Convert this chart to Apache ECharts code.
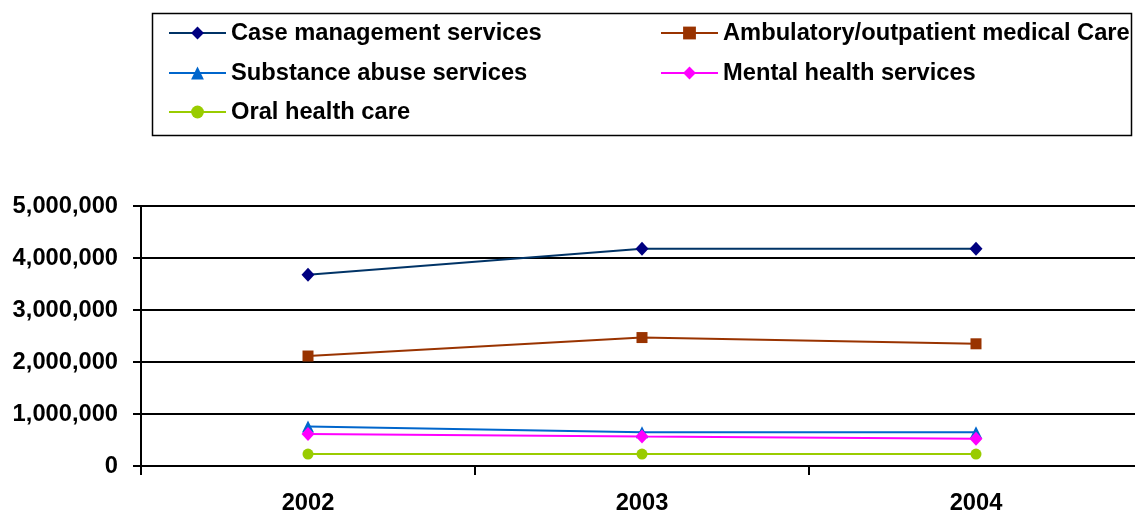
<!DOCTYPE html>
<html><head><meta charset="utf-8">
<script src="https://cdn.jsdelivr.net/npm/echarts@6/dist/echarts.min.js"></script>
<style>html,body{margin:0;padding:0;background:#fff}#c{width:1135px;height:512px}</style>
</head><body><div id="c"></div>
<script>
const categories = ['2002', '2003', '2004'];
const caseManagement = [3680000, 4180000, 4180000];
const ambulatory = [2115000, 2470000, 2350000];
const substanceAbuse = [760000, 650000, 650000];
const mentalHealth = [615000, 565000, 525000];
const oralHealth = [230000, 230000, 230000];
const yTicks = [0, 1000000, 2000000, 3000000, 4000000, 5000000];

const seriesDefs = [
  {name: 'Case management services', data: caseManagement, line: '#003366', mark: '#000080', symbol: 'diamond', size: [13, 14]},
  {name: 'Ambulatory/outpatient medical Care', data: ambulatory, line: '#993300', mark: '#993300', symbol: 'rect', size: 11},
  {name: 'Substance abuse services', data: substanceAbuse, line: '#0066CC', mark: '#0066CC', symbol: 'triangle', size: 12},
  {name: 'Mental health services', data: mentalHealth, line: '#FF00FF', mark: '#FF00FF', symbol: 'diamond', size: [13, 14]},
  {name: 'Oral health care', data: oralHealth, line: '#99CC00', mark: '#99CC00', symbol: 'circle', size: 11}
];
const legendPos = [[168, 21], [660, 21], [168, 61], [660, 61], [168, 100]];
const font = 'Liberation Sans, Arial, sans-serif';

const chart = echarts.init(document.getElementById('c'), null, {renderer: 'canvas'});
chart.setOption({
  animation: false,
  backgroundColor: '#fff',
  legend: seriesDefs.map((s, i) => ({
    data: [s.name], left: legendPos[i][0], top: legendPos[i][1], padding: 0,
    itemWidth: 57, itemHeight: 16, itemGap: 0,
    textStyle: {fontFamily: font, fontWeight: 'bold', fontSize: 23.7, color: '#000'}
  })),
  graphic: [{type: 'rect', shape: {x: 152.5, y: 13.5, width: 979, height: 122}, style: {fill: 'none', stroke: '#000', lineWidth: 1.5}}],
  grid: {left: 141, top: 206, bottom: 46, right: -8, containLabel: false, outerBoundsMode: 'none'},
  xAxis: {
    type: 'category', data: categories, boundaryGap: true,
    axisLine: {lineStyle: {color: '#000', width: 2}},
    axisTick: {show: true, length: 9, lineStyle: {color: '#000', width: 2}},
    axisLabel: {fontFamily: font, fontWeight: 'bold', fontSize: 23.7, color: '#000', margin: 25},
    splitLine: {show: false}
  },
  yAxis: {
    type: 'value', min: 0, max: 5000000, interval: 1000000,
    axisLine: {show: true, lineStyle: {color: '#000', width: 2}},
    axisTick: {show: true, length: 8, lineStyle: {color: '#000', width: 2}},
    axisLabel: {fontFamily: font, fontWeight: 'bold', fontSize: 23.7, color: '#000', margin: 23,
      formatter: v => yTicks.includes(v) ? v.toLocaleString('en-US') : ''},
    splitLine: {show: true, lineStyle: {color: '#000', width: 2}}
  },
  series: seriesDefs.map(s => ({
    name: s.name, type: 'line', data: s.data,
    symbol: s.symbol, symbolSize: s.size, showAllSymbol: true,
    lineStyle: {color: s.line, width: 2},
    itemStyle: {color: s.mark, borderWidth: 0},
    emphasis: {disabled: true}
  }))
});
</script></body></html>
